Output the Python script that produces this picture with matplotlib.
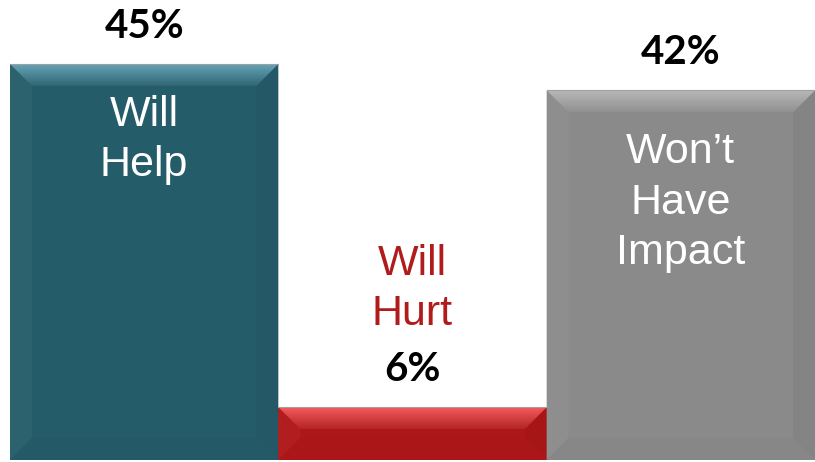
import matplotlib.pyplot as plt
import numpy as np
from matplotlib.patches import Polygon
from matplotlib.colors import to_rgb

# data
categories = ['Will\nHelp', 'Will\nHurt', 'Won’t\nHave\nImpact']
values = [45, 6, 42]
pct_labels = ['45%', '6%', '42%']

# styles
bar_colors = ['#255C6A', '#AE1718', '#8A8A8A']
top_light = ['#64A4B8', '#F55A5A', '#B8B8B8']
text_colors = ['white', '#B01C1C', 'white']
text_offsets_px = [-31, 163, -42]   # cap top relative to bar top
px = 0.72                           # pixel -> points at dpi 100

plt.rcParams['font.family'] = ['Liberation Sans', 'DejaVu Sans']

fig = plt.figure(figsize=(8.15, 4.62), dpi=100)
ax = fig.add_axes([10 / 815, 2 / 462, 805 / 815, 460 / 462])
ylim = (0, 460 / 8.8)

x = np.arange(len(values))
bars = ax.bar(x, values, width=1.0, color=bar_colors, edgecolor='none', zorder=1)


def shade(c, f):
    c = np.array(to_rgb(c))
    if f > 0:
        return tuple(c + (1 - c) * f)
    return tuple(c * (1 + f))


# bevel size in data units (about 22 px)
bx = 22 / (805 / 3)
by = 22 / 8.8

for i, b in enumerate(bars):
    x0, y0 = b.get_x(), b.get_y()
    x1, y1 = x0 + b.get_width(), y0 + b.get_height()
    base = bar_colors[i]
    # left / right / bottom bevel faces
    ax.add_patch(Polygon([(x0, y0), (x0, y1), (x0 + bx, y1 - by), (x0 + bx, y0 + by)],
                         closed=True, color=shade(base, 0.03), lw=0, zorder=2))
    ax.add_patch(Polygon([(x1, y0), (x1, y1), (x1 - bx, y1 - by), (x1 - bx, y0 + by)],
                         closed=True, color=shade(base, -0.04), lw=0, zorder=2))
    ax.add_patch(Polygon([(x0, y0), (x1, y0), (x1 - bx, y0 + by), (x0 + bx, y0 + by)],
                         closed=True, color=shade(base, -0.02), lw=0, zorder=2))
    # top bevel with vertical gradient
    top_poly = Polygon([(x0, y1), (x1, y1), (x1 - bx, y1 - by), (x0 + bx, y1 - by)],
                       closed=True, facecolor='none', lw=0)
    ax.add_patch(top_poly)
    c1 = np.array(to_rgb(top_light[i]))
    c2 = np.array(shade(base, 0.06))
    t = np.linspace(0, 1, 64)[:, None]
    grad = (c1 * (1 - t) + c2 * t)[:, None, :]
    im = ax.imshow(grad, extent=[x0, x1, y1 - by, y1], origin='upper',
                   aspect='auto', zorder=3, interpolation='bilinear')
    im.set_clip_path(top_poly)
    # thin top edge
    ax.plot([x0, x1], [y1, y1], color='#A0A0A0', lw=0.8, zorder=4)

    ax.annotate(categories[i], xy=(x[i], values[i]), xytext=(0, text_offsets_px[i] * px),
                textcoords='offset points', ha='center', va='top', fontsize=31,
                color=text_colors[i], linespacing=1.33, zorder=5)
    ax.annotate(pct_labels[i], xy=(x[i], values[i]), xytext=(0, 26 * px),
                textcoords='offset points', ha='center', va='baseline', fontsize=29,
                fontweight='bold', family=['Lato', 'DejaVu Sans'], color='black', zorder=5)

ax.set_xlim(-0.5, 2.5)
ax.set_ylim(*ylim)
ax.axis('off')

fig.savefig('out.png', dpi=100)
